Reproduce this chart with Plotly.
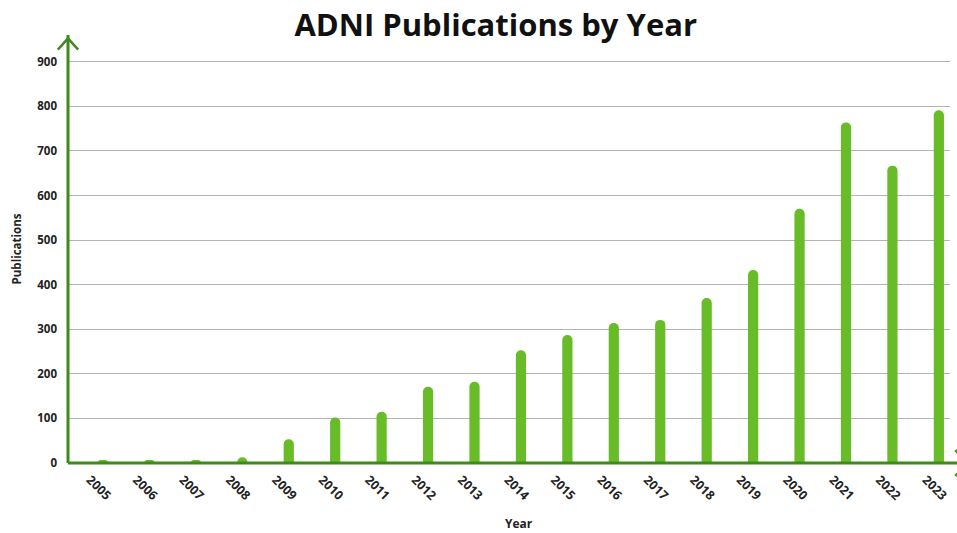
import plotly.graph_objects as go

years = ["2005", "2006", "2007", "2008", "2009", "2010", "2011", "2012", "2013", "2014",
         "2015", "2016", "2017", "2018", "2019", "2020", "2021", "2022", "2023"]
publications = [7, 7, 7, 13, 53, 102, 115, 171, 182, 253,
                287, 314, 321, 370, 433, 570, 764, 667, 791]
y_ticks = [0, 100, 200, 300, 400, 500, 600, 700, 800, 900]

BAR = "#67bc28"
AXIS = "#3f8a1c"
FONT = "Open Sans"

fig = go.Figure()
fig.add_trace(go.Bar(
    x=list(range(len(years))), y=publications,
    width=0.22, marker=dict(color=BAR, line=dict(width=0), cornerradius=5),
    hoverinfo="x+y",
))

fig.update_layout(
    width=957, height=533,
    margin=dict(l=68, r=7, t=35, b=70),
    paper_bgcolor="white", plot_bgcolor="white",
    showlegend=False,
    title=dict(text="<b>ADNI Publications by Year</b>", x=0.518, xanchor="center",
               y=0.953, yanchor="middle",
               font=dict(family=FONT, size=31, color="#111111")),
    font=dict(family=FONT, color="#222222"),
    xaxis=dict(
        range=[-0.754, 18.24], automargin=False,
        tickmode="array", tickvals=list(range(len(years))),
        ticktext=[f"<b>{y}</b>" for y in years],
        tickangle=45, tickfont=dict(size=12.5, color="#222222", family=FONT),
        showgrid=False, zeroline=False, showline=False, ticks="",
        ticklabelshift=-13, ticklabelstandoff=6,
    ),
    yaxis=dict(
        range=[0, 960], automargin=False,
        tickmode="array", tickvals=y_ticks,
        ticktext=[f"<b>{v}</b>" for v in y_ticks],
        tickfont=dict(size=11.5, color="#222222", family=FONT),
        showgrid=True, gridcolor="#b4b4b4", gridwidth=1,
        zeroline=False, showline=False, ticks="",
        ticklabelstandoff=10,
        title=dict(text="<b>Publications</b>", font=dict(size=11.5, family=FONT, color="#222222"),
                   standoff=13),
    ),
)

# x-axis title, near the bottom edge like the reference but fully visible
fig.add_annotation(text="<b>Year</b>", xref="paper", yref="paper", x=0.511, y=-0.141,
                   xanchor="center", yanchor="middle", showarrow=False,
                   font=dict(size=12, family=FONT, color="#222222"))

# axis lines with open arrowheads
fig.add_shape(type="line", xref="paper", yref="paper", x0=0, x1=0, y0=0, y1=1.0,
              line=dict(color=AXIS, width=3))
fig.add_shape(type="path", xref="paper", yref="paper",
              path="M -0.0115,0.966 L 0,0.992 L 0.0115,0.966",
              line=dict(color=AXIS, width=2.5))
fig.add_shape(type="line", xref="paper", yref="paper", x0=0, x1=1.02, y0=0, y1=0,
              line=dict(color=AXIS, width=3))
fig.add_shape(type="path", xref="paper", yref="paper",
              path="M 1.006,0.03 L 1.021,0 L 1.006,-0.03",
              line=dict(color=AXIS, width=2.5))

fig.write_html("out.html")
